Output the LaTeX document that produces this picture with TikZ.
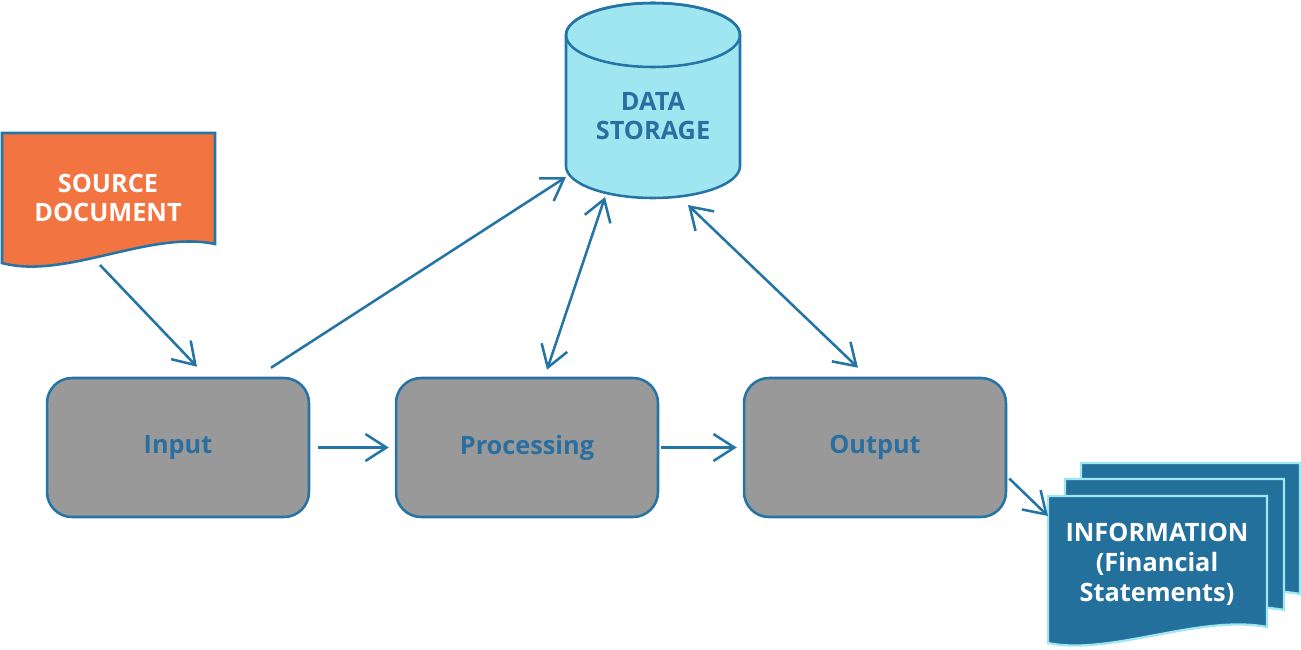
\documentclass[tikz,border=0pt]{standalone}
\usepackage{fontspec}
\setmainfont{Open Sans}
\usetikzlibrary{arrows.meta,calc}

\definecolor{lineblue}{HTML}{2574A6}
\definecolor{textblue}{HTML}{2A6F9F}
\definecolor{boxgray}{HTML}{999999}
\definecolor{storecyan}{HTML}{9FE6F1}
\definecolor{srcorange}{HTML}{F27541}
\definecolor{infoblue}{HTML}{23709D}

\tikzset{texte/.style = {align=center, font=\fontsize{14.4}{17}\selectfont\bfseries},
         etape/.style = {texte, rectangle, rounded corners=0.5cm,
                         minimum width=5.24cm, minimum height=2.78cm,
                         draw=lineblue, line width=1.45pt, fill=boxgray, text=textblue},
         fleche/.style = {draw=lineblue, line width=1.45pt,
                          -{Straight Barb[length=4.2mm,width=5.4mm]}},
         doublefleche/.style = {fleche, {Straight Barb[length=4.2mm,width=5.4mm]}-{Straight Barb[length=4.2mm,width=5.4mm]}},
         feuille/.style = {draw=storecyan, line width=1.3pt, fill=infoblue}
        }

\begin{document}
\begin{tikzpicture}[x=0.02cm, y=0.02cm]
  \useasboundingbox (0,0) rectangle (1301,-649);

  \node[etape] (input)      at (178,-447.5) {Input};
  \node[etape] (processing) at (527,-447.5) {Processing};
  \node[etape] (output)     at (875,-447.5) {Output};

  \draw[draw=lineblue, line width=1.45pt, fill=srcorange]
    (2,-133) -- (215,-133) -- (215,-244) .. controls (150,-230) and (65,-280) .. (2,-263) -- cycle;
  \node[texte, text=white] (source) at (108,-198) {SOURCE\\DOCUMENT};

  \draw[draw=lineblue, line width=1.45pt, fill=storecyan]
    (566,-35) -- (566,-166) arc[start angle=180, end angle=360, x radius=87, y radius=32]
    -- (740,-35) arc[start angle=0, end angle=180, x radius=87, y radius=32] -- cycle;
  \draw[draw=lineblue, line width=1.45pt] (653,-35) ellipse[x radius=87, y radius=32];
  \node[texte, text=textblue] (storage) at (653,-116) {DATA\\STORAGE};

  \foreach \d in {33,17,0}
    \draw[feuille, shift={(\d,\d)}]
      (1048,-496) -- (1267,-496) -- (1267,-627) .. controls (1200,-614) and (1110,-656) .. (1048,-643) -- cycle;
  \node[texte, text=white] (info) at (1157,-564) {INFORMATION\\(Financial\\Statements)};

  \coordinate (srcfoot) at (100,-265);
  \coordinate (storeA)  at (566,-177);
  \coordinate (storeB)  at (605,-197);
  \coordinate (storeC)  at (688,-205);
  \coordinate (infoin)  at (1048,-516);

  \draw[fleche] (srcfoot) -- ($(input.north)+(19,10)$);
  \draw[fleche] ($(input.north)+(93,9)$) -- (storeA);
  \draw[doublefleche] (storeB) -- ($(processing.north)+(20,7)$);
  \draw[doublefleche] (storeC) -- ($(output.north)+(-17,9)$);
  \draw[fleche] ($(input.east)+(8,0)$) -- ($(processing.west)+(-6,0)$);
  \draw[fleche] ($(processing.east)+(2,0)$) -- ($(output.west)+(-6,0)$);
  \draw[fleche] ($(output.east)+(2,-31)$) -- (infoin);
\end{tikzpicture}
\end{document}
